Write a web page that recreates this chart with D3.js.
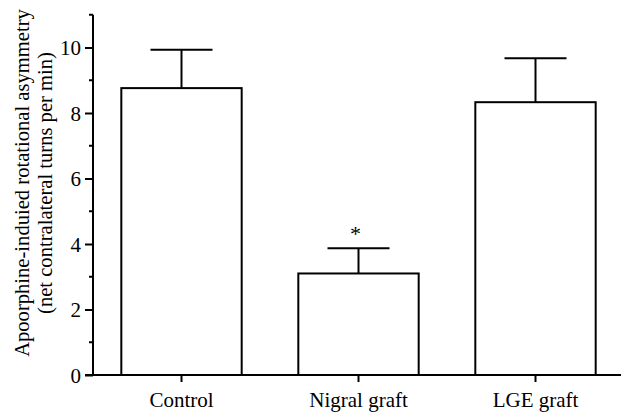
<!DOCTYPE html>
<html><head><meta charset="utf-8">
<script src="https://cdn.jsdelivr.net/npm/d3@7"></script>
<style>body{margin:0;background:#fff}svg{display:block}text{font-family:"Liberation Serif","Times New Roman",serif;fill:#000}</style>
</head><body>
<svg id="c" width="621" height="413"></svg>
<script>
const categories = ["Control", "Nigral graft", "LGE graft"];
const means = [8.76, 3.10, 8.33];
const errors = [1.17, 0.77, 1.34];
const significance = ["", "*", ""];
const majorTicks = [0, 2, 4, 6, 8, 10];
const minorTicks = [1, 3, 5, 7, 9, 11];
const yLabelLines = ["Apoorphine-induied rotational asymmetry", "(net contralateral turns per min)"];

const svg = d3.select("#c");
const x0 = 93, x1 = 624, yTop = 14.75, yBot = 375;
const x = d3.scaleBand().domain(categories).range([x0, x1]).paddingInner(0.32).paddingOuter(0.16);
const y = d3.scaleLinear().domain([0, 11]).range([yBot, yTop]);

// bars
svg.selectAll("rect.bar").data(categories).enter().append("rect")
  .attr("x", d => x(d)).attr("width", x.bandwidth())
  .attr("y", (d, i) => y(means[i])).attr("height", (d, i) => y(0) - y(means[i]))
  .attr("fill", "#fff").attr("stroke", "#000").attr("stroke-width", 2);

// error bars
const capHalf = 31;
categories.forEach((c, i) => {
  const cx = x(c) + x.bandwidth() / 2;
  svg.append("line").attr("x1", cx).attr("x2", cx).attr("y1", y(means[i])).attr("y2", y(means[i] + errors[i]))
    .attr("stroke", "#000").attr("stroke-width", 2);
  svg.append("line").attr("x1", cx - capHalf).attr("x2", cx + capHalf).attr("y1", y(means[i] + errors[i])).attr("y2", y(means[i] + errors[i]))
    .attr("stroke", "#000").attr("stroke-width", 2);
  if (significance[i]) {
    svg.append("text").attr("x", cx - 3).attr("y", y(means[i] + errors[i]) - 7)
      .attr("text-anchor", "middle").attr("font-size", 22).text(significance[i]);
  }
});

// y axis
const yAxis = d3.axisLeft(y).tickValues(majorTicks).tickSize(8).tickPadding(4).tickFormat(d3.format("d"));
const gy = svg.append("g").attr("transform", `translate(${x0},0)`).call(yAxis)
  .attr("font-family", "Liberation Serif").attr("font-size", 21);
gy.select(".domain").attr("d", `M0,${yTop}V${yBot}`).attr("stroke-width", 2);
gy.selectAll(".tick line").attr("stroke-width", 2);
gy.selectAll(".tick text").attr("dy", "0.34em");
gy.selectAll("line.minor").data(minorTicks).enter().append("line").attr("class", "minor")
  .attr("x1", -4).attr("x2", 0).attr("y1", d => y(d)).attr("y2", d => y(d))
  .attr("stroke", "#000").attr("stroke-width", 2);

// x axis
const xAxis = d3.axisBottom(x).tickSize(7).tickSizeOuter(0).tickPadding(10);
const gx = svg.append("g").attr("transform", `translate(0,${yBot})`).call(xAxis)
  .attr("font-family", "Liberation Serif").attr("font-size", 21);
gx.select(".domain").attr("d", `M${x0 - 8},0H621`).attr("stroke-width", 2);
gx.selectAll(".tick line").attr("stroke-width", 2);
gx.selectAll(".tick text").attr("dy", "0.71em");

// y label
const yl = svg.append("text").attr("transform", "translate(0,183) rotate(-90)").attr("text-anchor", "middle").attr("font-size", 20.6);
yl.append("tspan").attr("x", 0).attr("y", 29).text(yLabelLines[0]);
yl.append("tspan").attr("x", 0).attr("y", 52).text(yLabelLines[1]);
</script>
</body></html>
